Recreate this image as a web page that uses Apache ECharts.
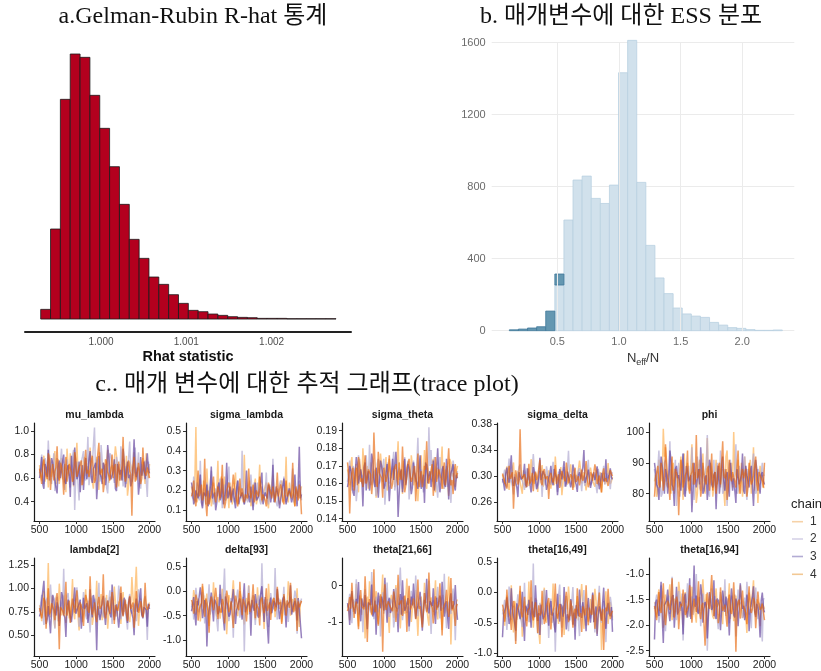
<!DOCTYPE html>
<html><head><meta charset="utf-8">
<script src="https://cdn.jsdelivr.net/npm/echarts@6/dist/echarts.min.js"></script>
<style>html,body{margin:0;padding:0;background:#fff}#c{width:821px;height:671px}</style>
</head><body><div id="c"></div>
<script>
// ---------- a. Gelman-Rubin R-hat histogram ----------
const rhatCounts = [29,270,659,795,785,671,572,457,344,239,182,126,104,73,47,26,22,15,11,7,5,4,2,2,2,1,1,1,1,1];
const rhatBinStart = 0.999293;
const rhatBinWidth = 0.0001154;
const rhatTicks = [1.000, 1.001, 1.002];

// ---------- b. ESS ratio histogram ----------
const essLight = [0,0,0,0,0,254,615,837,859,735,707,809,1433,1613,824,474,293,206,126,93,81,74,46,31,17,13,6,2,2,4];
const essMid   = [5,9,15,22,109,61,0,0,0,0,0,0,0,0,0,0,0,0,0,0,0,0,0,0,0,0,0,0,0,0];
const essBinStart = 0.111;
const essBinWidth = 0.0738;
const essXTicks = [0.5, 1.0, 1.5, 2.0];
const essYTicks = [0, 400, 800, 1200, 1600];

// ---------- c. trace plots ----------
const iterationsA = [500,530,560,590,620,650,680,710,740,770,800,830,860,890,920,950,980,1010,1040,1070,1100,1130,1160,1190,1220,1250,1280,1310,1340,1370,1400,1430,1460,1490,1520,1550,1580,1610,1640,1670,1700,1730,1760,1790,1820,1850,1880,1910,1940,1970,2000];
const iterationsB = [515,545,575,605,635,665,695,725,755,785,815,845,875,905,935,965,995,1025,1055,1085,1115,1145,1175,1205,1235,1265,1295,1325,1355,1385,1415,1445,1475,1505,1535,1565,1595,1625,1655,1685,1715,1745,1775,1805,1835,1865,1895,1925,1955,1985];
const iterTicks = [500, 1000, 1500, 2000];
const chainNames = ['1','2','3','4'];
const panelNames = ['mu_lambda','sigma_lambda','sigma_theta','sigma_delta','phi','lambda[2]','delta[93]','theta[21,66]','theta[16,49]','theta[16,94]'];
const panelYTicks = [
  [0.4,0.6,0.8,1.0],
  [0.1,0.2,0.3,0.4,0.5],
  [0.14,0.15,0.16,0.17,0.18,0.19],
  [0.26,0.30,0.34,0.38],
  [80,90,100],
  [0.50,0.75,1.00,1.25],
  [-1.0,-0.5,0.0,0.5],
  [-1,0],
  [-1.0,-0.5,0.0,0.5],
  [-2.5,-2.0,-1.5,-1.0]
];
const panelYRange = [[0.236,1.068],[0.046,0.540],[0.1387,0.1944],[0.2313,0.3815],[71.15,102.9],[0.278,1.324],[-1.323,0.676],[-1.935,0.763],[-1.049,0.570],[-2.603,-0.684]];
const panelDecimals = [1,1,2,2,0,2,1,0,1,1];

// draws at iterationsA, one array per chain
const muLambda = [
 [0.71,0.58,0.79,0.64,0.52,0.74,0.69,0.83,0.61,0.55,0.77,0.66,0.48,0.72,0.81,0.63,0.59,0.90,0.67,0.54,0.75,0.62,0.70,0.86,0.57,0.65,0.78,0.50,0.68,0.73,0.60,0.84,0.56,0.71,0.64,0.79,0.53,0.69,0.76,0.61,0.45,0.74,0.66,0.82,0.58,0.70,0.63,0.77,0.55,0.68,0.72],
 [0.64,0.80,0.55,0.73,0.92,0.60,0.68,0.49,0.77,0.62,0.85,0.57,0.70,0.66,0.52,0.79,0.33,0.74,0.41,0.69,0.83,0.58,0.95,0.63,0.71,1.03,0.76,0.67,0.88,0.59,0.72,0.47,0.81,0.65,0.56,0.78,0.62,0.87,0.53,0.70,0.66,0.91,0.57,0.74,0.60,0.82,0.51,0.69,0.75,0.44,0.67],
 [0.60,0.78,0.51,0.69,0.84,0.57,0.73,0.63,0.47,0.75,0.66,0.80,0.55,0.71,0.44,0.68,0.86,0.59,0.74,0.62,0.50,0.77,0.65,0.83,0.56,0.70,0.42,0.79,0.61,0.73,0.54,0.88,0.64,0.58,0.76,0.49,0.71,0.67,0.85,0.52,0.74,0.63,0.57,0.93,0.61,0.46,0.78,0.66,0.59,0.81,0.64],
 [0.68,0.55,0.76,0.62,0.81,0.50,0.72,0.66,0.87,0.58,0.70,0.46,0.78,0.64,0.73,0.57,0.82,0.61,0.69,0.75,0.53,0.84,0.67,0.60,0.79,0.56,0.71,0.90,0.63,0.48,0.76,0.65,0.58,0.80,0.69,0.52,0.74,0.62,0.95,0.57,0.70,0.66,0.28,0.78,0.61,0.73,0.55,0.86,0.64,0.69,0.60]
];
const sigmaLambda = [
 [0.22,0.15,0.52,0.18,0.26,0.13,0.21,0.31,0.17,0.12,0.24,0.19,0.35,0.14,0.20,0.27,0.16,0.11,0.23,0.18,0.29,0.13,0.21,0.17,0.38,0.15,0.22,0.12,0.19,0.26,0.16,0.33,0.14,0.20,0.24,0.11,0.18,0.28,0.15,0.21,0.13,0.25,0.17,0.37,0.14,0.19,0.23,0.12,0.20,0.16,0.22],
 [0.19,0.27,0.14,0.22,0.35,0.12,0.18,0.24,0.16,0.30,0.13,0.21,0.17,0.26,0.11,0.23,0.19,0.32,0.15,0.20,0.14,0.25,0.18,0.40,0.13,0.21,0.16,0.28,0.12,0.19,0.24,0.15,0.22,0.17,0.29,0.13,0.20,0.36,0.16,0.12,0.23,0.18,0.27,0.14,0.21,0.17,0.31,0.13,0.19,0.25,0.15],
 [0.24,0.13,0.20,0.16,0.28,0.11,0.19,0.23,0.14,0.32,0.17,0.10,0.22,0.15,0.26,0.12,0.34,0.18,0.14,0.21,0.11,0.25,0.16,0.19,0.13,0.30,0.17,0.22,0.10,0.24,0.15,0.20,0.29,0.12,0.18,0.23,0.14,0.33,0.16,0.21,0.11,0.19,0.26,0.13,0.17,0.22,0.15,0.28,0.12,0.42,0.18],
 [0.17,0.25,0.12,0.30,0.19,0.15,0.36,0.07,0.13,0.18,0.27,0.14,0.22,0.16,0.33,0.11,0.20,0.24,0.15,0.28,0.18,0.12,0.26,0.21,0.14,0.19,0.31,0.16,0.23,0.13,0.20,0.27,0.15,0.18,0.12,0.24,0.19,0.22,0.14,0.29,0.17,0.21,0.13,0.25,0.16,0.20,0.34,0.12,0.19,0.23,0.08]
];
const sigmaTheta = [
 [0.168,0.159,0.175,0.162,0.171,0.155,0.166,0.180,0.160,0.170,0.157,0.173,0.164,0.152,0.169,0.177,0.161,0.167,0.156,0.174,0.163,0.170,0.158,0.184,0.165,0.154,0.172,0.161,0.168,0.176,0.159,0.166,0.150,0.171,0.163,0.179,0.157,0.168,0.162,0.174,0.155,0.169,0.164,0.181,0.160,0.167,0.153,0.172,0.166,0.158,0.170],
 [0.161,0.173,0.156,0.168,0.150,0.176,0.163,0.158,0.171,0.165,0.182,0.159,0.167,0.153,0.174,0.162,0.169,0.148,0.172,0.160,0.166,0.178,0.155,0.164,0.170,0.157,0.175,0.163,0.151,0.168,0.173,0.161,0.186,0.158,0.167,0.154,0.171,0.192,0.179,0.160,0.168,0.152,0.175,0.162,0.157,0.170,0.165,0.149,0.173,0.161,0.167],
 [0.158,0.170,0.163,0.153,0.175,0.160,0.168,0.147,0.172,0.164,0.156,0.177,0.161,0.169,0.152,0.173,0.165,0.159,0.171,0.150,0.167,0.162,0.178,0.141,0.166,0.155,0.174,0.160,0.169,0.154,0.172,0.163,0.157,0.176,0.161,0.149,0.170,0.165,0.158,0.173,0.162,0.180,0.155,0.168,0.160,0.174,0.151,0.166,0.171,0.156,0.163],
 [0.172,0.143,0.166,0.156,0.169,0.175,0.161,0.158,0.176,0.163,0.168,0.154,0.189,0.160,0.178,0.165,0.152,0.170,0.162,0.176,0.157,0.167,0.171,0.159,0.164,0.181,0.155,0.169,0.174,0.161,0.166,0.150,0.177,0.163,0.158,0.170,0.184,0.160,0.167,0.153,0.175,0.162,0.169,0.157,0.172,0.164,0.180,0.159,0.154,0.171,0.166]
];
const sigmaDelta = [
 [0.302,0.288,0.315,0.279,0.296,0.321,0.284,0.308,0.291,0.273,0.312,0.298,0.285,0.326,0.293,0.305,0.276,0.300,0.317,0.287,0.294,0.309,0.281,0.299,0.330,0.290,0.303,0.271,0.311,0.295,0.286,0.318,0.301,0.283,0.297,0.324,0.289,0.306,0.278,0.300,0.313,0.292,0.284,0.310,0.297,0.275,0.305,0.291,0.320,0.288,0.299],
 [0.290,0.310,0.283,0.327,0.296,0.272,0.305,0.289,0.318,0.300,0.279,0.312,0.294,0.286,0.334,0.297,0.281,0.308,0.268,0.301,0.315,0.292,0.287,0.322,0.299,0.276,0.307,0.293,0.314,0.284,0.339,0.296,0.282,0.305,0.290,0.312,0.277,0.300,0.291,0.325,0.286,0.303,0.297,0.274,0.309,0.293,0.316,0.288,0.301,0.280,0.306],
 [0.296,0.278,0.313,0.290,0.332,0.285,0.301,0.268,0.309,0.294,0.319,0.283,0.299,0.275,0.314,0.302,0.288,0.328,0.292,0.307,0.279,0.298,0.316,0.286,0.304,0.271,0.311,0.295,0.323,0.289,0.300,0.283,0.318,0.293,0.276,0.306,0.297,0.340,0.287,0.310,0.282,0.301,0.294,0.315,0.280,0.305,0.292,0.326,0.289,0.312,0.295],
 [0.304,0.291,0.281,0.316,0.298,0.250,0.309,0.287,0.372,0.296,0.303,0.284,0.319,0.293,0.277,0.307,0.299,0.325,0.286,0.311,0.294,0.265,0.305,0.290,0.317,0.297,0.282,0.308,0.300,0.321,0.289,0.303,0.279,0.313,0.295,0.286,0.310,0.299,0.323,0.283,0.306,0.293,0.318,0.288,0.301,0.275,0.312,0.297,0.285,0.309,0.300]
];
const phi = [
 [84,79,91,86,101,95,82,88,88,80,87,83,92,78,85,90,81,96,84,77,89,86,93,80,98,83,87,79,91,85,82,88,76,94,84,90,100,86,91,83,79,92,85,88,80,95,84,77,89,86,82],
 [88,82,94,79,86,91,84,97,81,87,76,90,85,93,80,88,83,95,78,86,92,81,89,84,99,79,87,91,82,85,94,80,88,76,90,86,83,96,81,89,84,92,78,87,85,93,80,88,83,90,86],
 [90,83,78,92,85,88,80,94,83,76,89,86,81,93,79,87,84,74,90,82,88,95,80,85,78,91,83,86,75,89,84,92,81,87,79,90,85,77,88,83,93,80,86,82,89,76,91,84,80,87,83],
 [79,87,83,90,81,96,85,78,92,84,88,73,91,82,86,94,80,87,83,99,85,79,90,84,88,81,93,86,80,89,83,97,85,78,91,84,87,82,94,80,88,85,79,90,83,86,92,81,87,84,90]
];
const lambda2 = [
 [0.82,0.65,0.97,0.74,1.27,0.69,0.88,0.58,0.80,1.05,0.71,0.93,0.63,0.85,0.76,1.10,0.67,0.90,0.55,0.83,0.74,0.99,0.68,0.87,0.61,0.79,1.08,0.72,0.94,0.66,0.84,0.57,0.91,0.77,1.02,0.70,0.86,0.62,0.96,0.73,0.81,0.64,1.12,0.75,1.23,0.60,0.89,0.78,0.92,0.68,0.85],
 [0.75,0.93,0.61,0.86,0.70,1.04,0.79,0.57,0.91,0.68,0.83,1.21,0.73,0.95,0.64,0.88,0.77,1.01,0.59,0.82,0.96,0.71,0.87,0.53,0.92,0.76,0.66,1.06,0.80,0.69,0.90,0.74,0.98,0.62,0.85,0.72,1.03,0.67,0.88,0.79,0.56,0.94,0.73,0.84,0.65,0.99,0.77,0.70,0.91,0.45,0.81],
 [0.70,0.87,1.08,0.62,0.81,0.52,0.93,0.74,0.85,0.60,0.96,0.72,0.48,0.88,0.78,0.65,1.01,0.71,0.84,0.57,0.90,0.76,0.63,0.99,0.69,0.86,0.34,0.80,0.73,0.92,0.61,0.87,0.75,1.04,0.66,0.83,0.58,0.95,0.71,0.84,0.63,0.91,0.77,0.50,0.89,0.74,1.00,0.68,0.82,0.59,0.78],
 [0.79,0.68,0.90,0.57,1.00,0.75,0.84,0.66,0.95,0.35,0.82,0.71,1.07,0.78,0.63,0.89,0.74,0.98,0.69,0.86,0.60,0.93,0.77,1.13,0.72,0.85,0.64,0.91,0.79,1.15,0.68,0.87,0.73,0.96,0.62,0.84,0.76,1.02,0.70,0.88,0.65,0.92,0.80,0.58,0.97,0.74,0.86,0.69,1.06,0.77,0.83]
];
const delta93 = [
 [-0.25,0.02,-0.48,-0.15,-0.62,0.10,-0.33,-0.05,-0.71,-0.20,0.18,-0.41,-0.12,-0.56,0.05,-0.30,-0.88,-0.08,-0.38,0.22,-0.27,-0.51,0.00,-0.35,-0.68,-0.14,0.12,-0.44,-0.22,-0.59,0.08,-0.31,-0.10,-0.77,-0.26,0.15,-0.47,-0.18,-0.53,0.03,-0.36,-0.64,-0.09,-0.29,0.20,-0.50,-0.16,-0.40,0.06,-0.73,-0.23],
 [-0.33,-0.58,0.07,-0.21,-0.45,-0.02,-0.66,-0.28,0.14,-0.50,-0.11,-0.37,-0.82,-0.06,-0.43,0.46,-0.24,-0.61,-0.14,-0.95,-0.31,0.03,-0.54,-0.19,-1.23,-0.35,0.11,-0.47,-0.08,-0.69,-0.26,-0.52,0.57,-0.17,-0.40,-0.73,-0.04,-0.30,0.47,-0.58,-0.20,-0.46,0.09,-0.34,-0.63,-0.12,-0.42,0.01,-0.87,-0.27,-0.15],
 [-0.41,-0.12,-0.70,-0.29,0.08,-0.55,-0.18,-1.13,-0.36,-0.03,-0.62,-0.22,-0.47,0.13,-0.34,-0.80,-0.10,-0.52,-0.26,0.04,-0.67,-0.38,-0.15,-0.58,0.16,-0.44,-0.21,-0.91,-0.31,-0.06,-0.49,-0.19,0.10,-0.63,-0.35,-1.07,-0.13,-0.42,-0.24,0.05,-0.57,-0.32,-0.11,-0.74,-0.28,0.12,-0.48,-0.20,-0.60,-0.37,-0.96],
 [-0.18,-0.46,-0.07,-0.60,-0.30,0.15,-0.52,-0.24,-0.85,-0.11,-0.39,0.07,-0.57,-0.27,-0.16,-0.66,0.01,-0.43,-0.21,-0.75,-0.09,-0.34,0.19,-0.49,-0.25,-0.62,-0.04,-0.38,0.14,-0.55,-0.23,-0.70,-0.13,-0.45,0.06,-0.32,-0.59,-0.19,-0.41,0.09,-0.28,-0.67,-0.06,-0.50,-0.22,0.17,-0.36,-0.14,-0.81,-0.33,-0.20]
];
const theta2166 = [
 [-0.52,-0.95,-0.21,-0.70,0.05,-1.12,-0.40,-0.63,-1.45,-0.30,0.12,-0.82,-0.55,-0.15,-1.05,-0.46,0.31,-0.74,-0.58,-1.30,-0.25,-0.88,0.02,-0.60,-1.18,-0.35,-0.77,0.20,-0.50,-1.00,-0.68,-0.12,-1.38,-0.43,-0.85,0.08,-0.57,-1.10,-0.32,-0.72,0.15,-0.93,-0.48,-1.22,-0.28,-0.65,0.25,-1.62,-0.54,-0.80,-0.38],
 [-0.60,-0.22,-1.03,-0.45,0.18,-0.80,-0.35,-1.28,-0.10,-0.67,-0.50,0.38,-0.92,-0.30,-0.73,-1.40,-0.18,-0.58,0.09,-0.86,-0.42,-1.15,-0.06,-0.63,0.50,-0.95,-0.38,-0.75,-1.25,-0.14,-0.55,0.28,-0.84,-0.47,-1.07,-0.20,-0.70,0.14,-1.33,-0.40,-0.62,-0.03,-0.90,-0.52,0.33,-1.17,-0.44,-0.78,-0.08,-1.50,-0.57],
 [-0.48,-1.08,-0.15,-0.66,-0.36,0.10,-0.98,-0.53,-0.26,-1.20,-0.41,0.03,-0.71,-1.35,-0.19,-0.62,-0.44,0.22,-1.02,-0.33,-0.80,-0.09,-0.58,-1.28,-0.23,0.15,-0.69,-0.47,-1.12,-0.30,0.06,-0.91,-0.55,-0.17,-1.24,-0.39,0.19,-0.76,-0.50,-0.07,-1.05,-0.60,-0.27,0.11,-0.85,-0.43,-1.19,-0.21,-0.66,0.02,-0.94],
 [-0.70,-0.31,0.08,-0.89,-0.44,-1.20,-0.12,-0.61,0.26,-1.55,-0.37,-0.79,0.45,-0.52,-1.10,-0.24,-1.82,0.04,-0.67,-0.41,-0.58,-0.16,-1.00,0.30,-0.49,-0.83,-0.27,-1.27,0.00,-0.64,-0.35,-0.92,0.17,-0.56,-1.15,-0.20,-0.73,0.36,-0.46,-1.04,-0.29,-0.68,0.07,-1.37,-0.53,-0.11,-0.86,0.21,-0.42,-1.11,-0.50]
];
const theta1649 = [
 [-0.28,-0.55,-0.05,-0.40,0.12,-0.66,-0.20,-0.35,0.03,-0.73,-0.15,-0.47,0.18,-0.31,-0.58,-0.09,-0.42,-0.85,-0.24,0.08,-0.50,-0.18,-0.37,0.15,-0.62,-0.27,-0.04,-0.45,-0.70,-0.13,0.10,-0.39,-0.22,-0.56,-0.06,-0.33,0.14,-0.60,-0.26,-0.48,-0.11,-0.36,0.06,-0.68,-0.19,-0.95,-0.30,0.02,-0.52,-0.16,-0.41],
 [-0.36,-0.12,-0.62,0.10,-0.45,-0.22,-0.80,-0.03,-0.33,-0.57,0.16,-0.26,-0.49,-0.08,0.48,-0.40,-0.68,-0.17,-0.53,0.05,-0.30,-0.75,-0.10,-0.44,-0.98,-0.21,0.13,-0.58,-0.35,-0.06,-0.64,-0.25,0.09,-0.47,-0.15,-0.72,-0.31,0.04,-0.55,-0.19,-0.43,-0.02,-0.66,-0.28,0.11,-0.50,-0.14,-0.82,-0.34,-0.07,-0.46],
 [-0.74,-0.30,-0.08,-0.52,0.07,-0.38,-0.63,-0.18,-0.44,0.01,-0.80,-0.27,-0.12,-0.58,-0.35,0.12,-0.47,-0.70,-0.21,-0.40,0.04,-0.55,-0.14,-0.33,-0.66,-0.02,-0.48,-0.25,0.09,-0.61,-0.37,-0.11,-0.53,-0.78,-0.20,0.05,-0.42,-0.29,-0.64,-0.09,-0.50,0.00,-0.34,-0.72,-0.23,-0.45,0.08,-0.60,-0.17,-0.39,-0.65],
 [-0.20,-0.48,0.05,-0.33,-0.62,-0.14,-0.85,-0.26,0.11,-0.41,-0.07,-0.56,-0.29,0.20,-0.46,-0.16,-0.67,-0.38,0.03,-0.52,-0.24,-0.09,-0.61,-0.35,0.15,-0.43,-0.19,-0.74,-0.31,0.01,-0.49,-0.13,-0.58,-0.27,0.07,-0.40,-0.65,-0.22,0.12,-0.54,-0.32,-0.04,-0.60,-0.37,0.00,-0.47,-0.95,-0.25,0.06,-0.44,-0.30]
];
const theta1694 = [
 [-1.55,-1.85,-1.30,-1.70,-2.05,-1.40,-1.62,-1.20,-1.90,-1.48,-1.75,-1.15,-1.60,-2.00,-1.35,-1.68,-1.82,-1.25,-1.57,-1.95,-1.45,-1.72,-1.10,-1.65,-2.10,-1.38,-1.58,-1.88,-1.28,-1.66,-1.50,-1.98,-1.33,-1.77,-1.18,-1.61,-1.92,-1.42,-1.70,-1.22,-1.86,-1.53,-2.15,-1.36,-1.64,-1.12,-1.80,-1.47,-2.02,-1.56,-1.68],
 [-1.68,-1.40,-1.95,-1.22,-1.58,-2.12,-1.48,-1.78,-1.05,-1.62,-1.90,-1.33,-1.72,-2.30,-1.52,-1.18,-1.84,-1.44,-1.66,-1.00,-1.76,-2.02,-1.38,-1.60,-2.50,-1.50,-1.28,-1.82,-1.64,-2.08,-1.35,-1.74,-1.10,-1.56,-1.96,-1.42,-1.70,-2.22,-1.30,-1.63,-1.86,-1.46,-1.15,-1.79,-2.06,-1.54,-1.26,-1.88,-1.60,-2.32,-1.49],
 [-2.28,-1.50,-1.82,-1.15,-2.35,-1.60,-1.30,-1.92,-1.45,-2.05,-1.25,-1.72,-1.58,-2.18,-1.38,-1.85,-1.08,-1.66,-0.83,-1.42,-1.78,-1.20,-1.95,-1.55,-2.26,-1.35,-1.70,-1.12,-1.88,-1.52,-2.10,-1.32,-1.74,-1.62,-2.20,-1.28,-1.80,-1.48,-2.02,-1.18,-1.68,-1.90,-1.40,-2.12,-1.57,-1.24,-1.84,-1.65,-2.24,-1.36,-1.75],
 [-1.62,-1.90,-1.35,-1.76,-1.18,-2.00,-1.52,-1.70,-1.08,-1.85,-1.44,-2.08,-1.58,-1.30,-1.80,-1.66,-1.22,-1.95,-1.48,-1.74,-1.14,-1.88,-1.56,-2.40,-1.36,-1.68,-1.02,-1.82,-1.50,-1.96,-1.26,-1.72,-1.60,-2.03,-1.40,-1.78,-1.16,-2.52,-1.54,-1.87,-1.32,-1.64,-1.98,-1.24,-1.76,-1.46,-2.06,-1.34,-1.70,-1.58,-1.90]
];

// draws at iterationsB, one array per chain
const muLambdaB = [
 [0.63,0.74,0.57,0.68,0.80,0.61,0.70,0.55,0.76,0.66,0.59,0.72,0.85,0.62,0.69,0.53,0.75,0.64,0.71,0.58,0.78,0.67,0.60,0.73,0.51,0.70,0.65,0.82,0.59,0.68,0.74,0.56,0.69,0.63,0.87,0.61,0.72,0.58,0.66,0.79,0.54,0.71,0.62,0.76,0.67,0.57,0.73,0.64,0.81,0.60],
 [0.70,0.59,0.77,0.62,0.68,0.55,0.81,0.65,0.58,0.73,0.67,0.50,0.76,0.61,0.71,0.84,0.63,0.56,0.69,0.78,0.60,0.72,0.54,0.66,0.88,0.62,0.70,0.57,0.75,0.64,0.52,0.69,0.79,0.61,0.66,0.73,0.58,0.71,0.63,0.55,0.77,0.65,0.60,0.86,0.68,0.56,0.72,0.62,0.58,0.74],
 [0.66,0.55,0.72,0.61,0.58,0.77,0.64,0.52,0.70,0.60,0.74,0.57,0.67,0.63,0.79,0.54,0.69,0.62,0.48,0.71,0.65,0.59,0.76,0.61,0.68,0.73,0.57,0.64,0.55,0.70,0.62,0.78,0.59,0.66,0.51,0.72,0.63,0.58,0.75,0.67,0.60,0.53,0.71,0.65,0.69,0.56,0.62,0.74,0.58,0.68],
 [0.62,0.71,0.66,0.59,0.75,0.64,0.58,0.69,0.61,0.73,0.63,0.67,0.57,0.72,0.65,0.60,0.76,0.62,0.68,0.54,0.70,0.64,0.61,0.74,0.66,0.59,0.71,0.63,0.68,0.56,0.73,0.62,0.67,0.60,0.72,0.65,0.58,0.70,0.64,0.61,0.75,0.63,0.69,0.57,0.66,0.72,0.60,0.68,0.62,0.65]
];
const sigmaLambdaB = [
 [0.18,0.23,0.14,0.20,0.16,0.25,0.13,0.19,0.22,0.15,0.17,0.21,0.14,0.27,0.18,0.15,0.20,0.24,0.13,0.19,0.16,0.22,0.18,0.14,0.21,0.17,0.25,0.15,0.19,0.13,0.22,0.18,0.16,0.20,0.14,0.23,0.17,0.19,0.15,0.21,0.18,0.14,0.20,0.16,0.24,0.17,0.15,0.21,0.18,0.19],
 [0.16,0.20,0.24,0.15,0.18,0.21,0.13,0.19,0.23,0.17,0.14,0.20,0.16,0.22,0.18,0.15,0.26,0.17,0.20,0.14,0.19,0.23,0.16,0.18,0.21,0.14,0.17,0.20,0.24,0.16,0.18,0.13,0.21,0.19,0.15,0.22,0.17,0.20,0.14,0.18,0.25,0.16,0.19,0.15,0.21,0.18,0.14,0.20,0.17,0.22],
 [0.20,0.15,0.18,0.22,0.14,0.19,0.17,0.12,0.21,0.16,0.19,0.14,0.24,0.17,0.13,0.20,0.16,0.22,0.18,0.15,0.21,0.13,0.17,0.20,0.16,0.19,0.14,0.23,0.18,0.15,0.17,0.21,0.13,0.19,0.16,0.20,0.18,0.14,0.22,0.17,0.15,0.20,0.18,0.16,0.21,0.14,0.19,0.17,0.23,0.16],
 [0.19,0.16,0.21,0.17,0.23,0.18,0.14,0.20,0.16,0.22,0.18,0.15,0.19,0.21,0.17,0.14,0.20,0.18,0.16,0.22,0.15,0.19,0.17,0.20,0.18,0.16,0.21,0.19,0.14,0.20,0.17,0.22,0.18,0.15,0.19,0.21,0.16,0.18,0.20,0.17,0.23,0.15,0.19,0.17,0.20,0.16,0.18,0.22,0.15,0.19]
];
const sigmaThetaB = [
 [0.164,0.171,0.158,0.167,0.162,0.174,0.160,0.169,0.165,0.157,0.172,0.163,0.168,0.155,0.166,0.170,0.161,0.175,0.159,0.167,0.164,0.158,0.171,0.162,0.168,0.173,0.160,0.166,0.156,0.170,0.163,0.167,0.161,0.176,0.165,0.159,0.169,0.162,0.172,0.158,0.166,0.163,0.170,0.157,0.168,0.161,0.174,0.164,0.160,0.167],
 [0.167,0.160,0.170,0.163,0.157,0.172,0.165,0.161,0.176,0.162,0.168,0.158,0.166,0.171,0.160,0.164,0.174,0.159,0.167,0.163,0.170,0.156,0.165,0.169,0.161,0.166,0.162,0.173,0.158,0.167,0.164,0.171,0.160,0.168,0.155,0.166,0.163,0.170,0.161,0.175,0.159,0.167,0.164,0.169,0.162,0.158,0.171,0.165,0.168,0.160],
 [0.162,0.168,0.155,0.166,0.171,0.159,0.164,0.169,0.156,0.167,0.161,0.173,0.158,0.165,0.162,0.170,0.157,0.166,0.163,0.160,0.174,0.161,0.167,0.154,0.168,0.163,0.159,0.171,0.164,0.158,0.166,0.162,0.169,0.157,0.165,0.172,0.160,0.167,0.163,0.156,0.169,0.164,0.161,0.170,0.158,0.166,0.162,0.168,0.159,0.165],
 [0.166,0.161,0.169,0.164,0.159,0.170,0.163,0.167,0.160,0.168,0.165,0.162,0.171,0.158,0.166,0.163,0.169,0.161,0.167,0.164,0.160,0.168,0.163,0.172,0.162,0.166,0.159,0.169,0.164,0.161,0.170,0.165,0.158,0.167,0.162,0.168,0.163,0.160,0.171,0.165,0.161,0.168,0.163,0.166,0.159,0.170,0.164,0.162,0.167,0.163]
];
const sigmaDeltaB = [
 [0.295,0.306,0.289,0.300,0.312,0.285,0.298,0.304,0.291,0.309,0.282,0.299,0.294,0.315,0.288,0.301,0.296,0.308,0.284,0.303,0.292,0.311,0.297,0.286,0.305,0.293,0.314,0.290,0.300,0.287,0.307,0.296,0.283,0.302,0.298,0.310,0.289,0.304,0.294,0.299,0.313,0.291,0.301,0.286,0.306,0.295,0.288,0.303,0.297,0.292],
 [0.301,0.290,0.307,0.296,0.285,0.303,0.292,0.314,0.298,0.288,0.305,0.294,0.300,0.283,0.309,0.297,0.291,0.304,0.299,0.286,0.312,0.295,0.289,0.302,0.298,0.307,0.284,0.300,0.293,0.310,0.296,0.289,0.303,0.291,0.308,0.297,0.301,0.285,0.305,0.294,0.290,0.306,0.299,0.311,0.292,0.300,0.287,0.304,0.296,0.302],
 [0.289,0.304,0.296,0.310,0.292,0.299,0.283,0.306,0.295,0.301,0.287,0.312,0.298,0.291,0.305,0.280,0.300,0.294,0.308,0.297,0.286,0.303,0.292,0.311,0.298,0.290,0.304,0.296,0.284,0.307,0.299,0.293,0.309,0.287,0.301,0.295,0.313,0.290,0.302,0.297,0.285,0.306,0.294,0.300,0.288,0.308,0.296,0.291,0.303,0.298],
 [0.298,0.292,0.303,0.296,0.306,0.290,0.300,0.295,0.304,0.293,0.301,0.297,0.289,0.305,0.299,0.294,0.302,0.291,0.307,0.296,0.300,0.293,0.304,0.298,0.288,0.303,0.297,0.301,0.292,0.306,0.295,0.299,0.304,0.291,0.300,0.297,0.293,0.305,0.298,0.290,0.302,0.296,0.307,0.294,0.299,0.303,0.292,0.300,0.296,0.304]
];
const phiB = [
 [86,81,89,84,92,83,87,80,90,85,82,88,84,93,81,86,89,83,87,80,91,85,82,88,84,90,79,86,83,89,85,81,92,84,87,82,88,85,80,90,84,87,83,91,86,81,88,84,85,82],
 [83,88,85,80,90,84,87,82,86,91,84,79,88,85,83,89,81,87,85,92,82,86,84,89,80,87,85,83,90,84,88,81,86,85,91,83,87,80,89,84,86,82,88,84,90,85,81,87,83,86],
 [87,82,85,89,80,86,84,91,82,88,85,83,87,80,89,84,86,82,90,85,83,88,81,86,84,89,82,87,85,80,88,84,86,83,90,81,85,88,83,86,81,89,84,87,82,85,88,83,86,84],
 [85,89,82,87,84,90,83,86,81,88,85,83,89,84,87,82,86,90,84,85,88,82,86,83,89,85,81,87,84,90,83,86,88,82,85,87,84,89,83,86,85,88,82,86,84,89,83,87,85,82]
];
const lambda2B = [
 [0.78,0.88,0.70,0.83,0.74,0.92,0.67,0.81,0.76,0.86,0.72,0.95,0.79,0.68,0.84,0.75,0.89,0.71,0.80,0.64,0.87,0.77,0.73,0.90,0.69,0.82,0.76,0.85,0.66,0.79,0.93,0.74,0.81,0.70,0.86,0.78,0.72,0.88,0.75,0.83,0.68,0.80,0.91,0.73,0.84,0.77,0.70,0.87,0.76,0.82],
 [0.83,0.72,0.79,0.90,0.68,0.85,0.76,0.81,0.65,0.87,0.78,0.73,0.92,0.80,0.70,0.84,0.75,0.88,0.71,0.79,0.83,0.67,0.86,0.77,0.74,0.89,0.79,0.69,0.82,0.76,0.72,0.87,0.78,0.85,0.70,0.81,0.94,0.74,0.80,0.68,0.86,0.77,0.72,0.83,0.79,0.91,0.73,0.81,0.75,0.84],
 [0.74,0.86,0.79,0.67,0.83,0.76,0.89,0.71,0.80,0.75,0.91,0.69,0.82,0.77,0.64,0.85,0.73,0.80,0.88,0.70,0.78,0.84,0.72,0.79,0.93,0.75,0.81,0.66,0.86,0.74,0.80,0.77,0.69,0.87,0.76,0.82,0.71,0.79,0.90,0.73,0.85,0.78,0.68,0.81,0.75,0.88,0.72,0.80,0.77,0.83],
 [0.81,0.75,0.86,0.79,0.72,0.84,0.77,0.89,0.74,0.80,0.76,0.83,0.71,0.87,0.78,0.82,0.73,0.80,0.85,0.76,0.79,0.88,0.74,0.81,0.77,0.70,0.84,0.78,0.83,0.75,0.80,0.86,0.73,0.79,0.82,0.76,0.88,0.77,0.81,0.74,0.83,0.78,0.85,0.72,0.80,0.79,0.84,0.75,0.82,0.78]
];
const delta93B = [
 [-0.31,-0.12,-0.40,-0.22,-0.35,-0.08,-0.29,-0.46,-0.18,-0.33,-0.25,-0.52,-0.14,-0.38,-0.27,-0.05,-0.42,-0.21,-0.34,-0.16,-0.44,-0.26,-0.11,-0.37,-0.23,-0.48,-0.19,-0.30,-0.09,-0.41,-0.28,-0.15,-0.36,-0.24,-0.50,-0.20,-0.33,-0.13,-0.39,-0.27,-0.17,-0.45,-0.25,-0.32,-0.10,-0.38,-0.22,-0.29,-0.43,-0.19],
 [-0.22,-0.37,-0.15,-0.43,-0.26,-0.10,-0.34,-0.20,-0.48,-0.28,-0.13,-0.39,-0.24,-0.31,-0.06,-0.36,-0.21,-0.45,-0.29,-0.17,-0.33,-0.25,-0.41,-0.12,-0.30,-0.23,-0.47,-0.18,-0.35,-0.27,-0.09,-0.40,-0.26,-0.32,-0.16,-0.44,-0.21,-0.37,-0.28,-0.14,-0.34,-0.25,-0.49,-0.19,-0.31,-0.23,-0.38,-0.11,-0.30,-0.26],
 [-0.29,-0.44,-0.20,-0.33,-0.14,-0.38,-0.26,-0.51,-0.22,-0.35,-0.17,-0.30,-0.42,-0.24,-0.36,-0.11,-0.31,-0.47,-0.19,-0.28,-0.39,-0.21,-0.34,-0.15,-0.43,-0.27,-0.32,-0.18,-0.40,-0.25,-0.54,-0.23,-0.30,-0.12,-0.37,-0.28,-0.45,-0.20,-0.33,-0.26,-0.41,-0.16,-0.35,-0.29,-0.22,-0.48,-0.27,-0.31,-0.14,-0.36],
 [-0.26,-0.33,-0.19,-0.38,-0.24,-0.30,-0.15,-0.41,-0.27,-0.22,-0.35,-0.18,-0.31,-0.44,-0.25,-0.29,-0.12,-0.36,-0.23,-0.32,-0.20,-0.39,-0.27,-0.16,-0.34,-0.28,-0.42,-0.21,-0.30,-0.25,-0.37,-0.18,-0.33,-0.26,-0.40,-0.23,-0.29,-0.14,-0.35,-0.27,-0.22,-0.38,-0.30,-0.19,-0.34,-0.25,-0.43,-0.28,-0.21,-0.32]
];
const theta2166B = [
 [-0.58,-0.35,-0.72,-0.48,-0.62,-0.27,-0.80,-0.52,-0.40,-0.66,-0.31,-0.57,-0.75,-0.45,-0.60,-0.22,-0.69,-0.50,-0.84,-0.42,-0.56,-0.33,-0.71,-0.47,-0.63,-0.29,-0.78,-0.53,-0.38,-0.65,-0.46,-0.74,-0.55,-0.30,-0.68,-0.51,-0.88,-0.43,-0.59,-0.36,-0.70,-0.49,-0.61,-0.25,-0.76,-0.54,-0.41,-0.67,-0.57,-0.44],
 [-0.50,-0.70,-0.38,-0.61,-0.45,-0.82,-0.53,-0.33,-0.66,-0.48,-0.74,-0.56,-0.40,-0.63,-0.28,-0.59,-0.77,-0.47,-0.64,-0.36,-0.52,-0.86,-0.44,-0.60,-0.34,-0.68,-0.49,-0.57,-0.73,-0.42,-0.62,-0.31,-0.55,-0.79,-0.46,-0.58,-0.39,-0.67,-0.51,-0.81,-0.43,-0.60,-0.32,-0.65,-0.54,-0.72,-0.47,-0.37,-0.63,-0.56],
 [-0.62,-0.43,-0.57,-0.77,-0.49,-0.66,-0.35,-0.59,-0.72,-0.46,-0.53,-0.85,-0.41,-0.60,-0.51,-0.30,-0.68,-0.55,-0.44,-0.75,-0.58,-0.39,-0.64,-0.50,-0.80,-0.45,-0.61,-0.34,-0.70,-0.54,-0.47,-0.65,-0.37,-0.59,-0.76,-0.48,-0.62,-0.42,-0.56,-0.71,-0.33,-0.57,-0.69,-0.46,-0.52,-0.83,-0.40,-0.63,-0.50,-0.58],
 [-0.54,-0.63,-0.46,-0.58,-0.69,-0.41,-0.56,-0.65,-0.49,-0.60,-0.38,-0.57,-0.72,-0.51,-0.62,-0.45,-0.55,-0.67,-0.43,-0.59,-0.70,-0.48,-0.61,-0.53,-0.40,-0.64,-0.56,-0.47,-0.66,-0.52,-0.59,-0.44,-0.63,-0.55,-0.71,-0.50,-0.58,-0.42,-0.61,-0.54,-0.66,-0.49,-0.57,-0.63,-0.45,-0.60,-0.52,-0.68,-0.47,-0.56]
];
const theta1649B = [
 [-0.33,-0.20,-0.41,-0.27,-0.36,-0.14,-0.45,-0.30,-0.24,-0.38,-0.18,-0.34,-0.49,-0.26,-0.31,-0.11,-0.39,-0.28,-0.22,-0.43,-0.35,-0.17,-0.29,-0.40,-0.25,-0.52,-0.32,-0.21,-0.37,-0.28,-0.15,-0.42,-0.30,-0.23,-0.46,-0.34,-0.19,-0.36,-0.27,-0.40,-0.24,-0.31,-0.13,-0.38,-0.29,-0.44,-0.26,-0.35,-0.21,-0.32],
 [-0.25,-0.38,-0.29,-0.16,-0.42,-0.31,-0.22,-0.35,-0.47,-0.27,-0.33,-0.19,-0.40,-0.28,-0.36,-0.12,-0.30,-0.44,-0.24,-0.37,-0.21,-0.32,-0.50,-0.26,-0.34,-0.18,-0.39,-0.29,-0.23,-0.41,-0.30,-0.15,-0.36,-0.27,-0.45,-0.22,-0.33,-0.38,-0.20,-0.31,-0.43,-0.26,-0.35,-0.17,-0.39,-0.28,-0.24,-0.37,-0.30,-0.21],
 [-0.36,-0.24,-0.31,-0.45,-0.27,-0.39,-0.18,-0.33,-0.28,-0.48,-0.22,-0.37,-0.30,-0.15,-0.41,-0.26,-0.34,-0.20,-0.44,-0.29,-0.35,-0.23,-0.38,-0.53,-0.27,-0.32,-0.19,-0.40,-0.25,-0.36,-0.46,-0.28,-0.33,-0.21,-0.39,-0.30,-0.16,-0.42,-0.26,-0.34,-0.29,-0.49,-0.23,-0.37,-0.31,-0.18,-0.40,-0.27,-0.35,-0.24],
 [-0.29,-0.35,-0.23,-0.40,-0.31,-0.26,-0.37,-0.20,-0.33,-0.28,-0.42,-0.30,-0.24,-0.36,-0.27,-0.39,-0.21,-0.34,-0.29,-0.45,-0.25,-0.32,-0.38,-0.22,-0.35,-0.30,-0.27,-0.41,-0.33,-0.19,-0.36,-0.28,-0.31,-0.43,-0.26,-0.34,-0.23,-0.38,-0.30,-0.25,-0.37,-0.29,-0.40,-0.22,-0.33,-0.27,-0.36,-0.31,-0.24,-0.35]
];
const theta1694B = [
 [-1.60,-1.45,-1.72,-1.53,-1.81,-1.58,-1.40,-1.67,-1.76,-1.50,-1.63,-1.35,-1.70,-1.56,-1.85,-1.48,-1.65,-1.57,-1.78,-1.44,-1.61,-1.73,-1.52,-1.39,-1.68,-1.59,-1.83,-1.47,-1.64,-1.55,-1.75,-1.42,-1.66,-1.54,-1.88,-1.50,-1.62,-1.71,-1.46,-1.58,-1.80,-1.53,-1.69,-1.37,-1.63,-1.74,-1.49,-1.60,-1.77,-1.55],
 [-1.66,-1.55,-1.78,-1.48,-1.63,-1.71,-1.42,-1.59,-1.84,-1.52,-1.69,-1.60,-1.38,-1.74,-1.56,-1.65,-1.49,-1.80,-1.58,-1.67,-1.45,-1.72,-1.61,-1.53,-1.86,-1.57,-1.70,-1.43,-1.64,-1.76,-1.51,-1.62,-1.82,-1.47,-1.68,-1.58,-1.40,-1.73,-1.60,-1.54,-1.79,-1.63,-1.50,-1.69,-1.44,-1.66,-1.75,-1.56,-1.61,-1.48],
 [-1.56,-1.70,-1.47,-1.83,-1.61,-1.52,-1.75,-1.63,-1.41,-1.68,-1.79,-1.54,-1.66,-1.46,-1.72,-1.59,-1.88,-1.50,-1.64,-1.73,-1.55,-1.42,-1.69,-1.60,-1.77,-1.51,-1.65,-1.81,-1.48,-1.62,-1.70,-1.57,-1.44,-1.74,-1.63,-1.53,-1.85,-1.59,-1.67,-1.49,-1.62,-1.76,-1.54,-1.68,-1.45,-1.71,-1.58,-1.82,-1.52,-1.66],
 [-1.64,-1.58,-1.70,-1.52,-1.66,-1.75,-1.60,-1.49,-1.68,-1.62,-1.55,-1.73,-1.63,-1.57,-1.80,-1.61,-1.51,-1.69,-1.65,-1.58,-1.74,-1.62,-1.54,-1.67,-1.59,-1.71,-1.48,-1.64,-1.60,-1.77,-1.56,-1.66,-1.61,-1.53,-1.72,-1.63,-1.58,-1.69,-1.50,-1.65,-1.62,-1.76,-1.57,-1.64,-1.68,-1.55,-1.70,-1.60,-1.66,-1.59]
];
const traceChainsA = [muLambda, sigmaLambda, sigmaTheta, sigmaDelta, phi, lambda2, delta93, theta2166, theta1649, theta1694];
const traceChainsB = [muLambdaB, sigmaLambdaB, sigmaThetaB, sigmaDeltaB, phiB, lambda2B, delta93B, theta2166B, theta1649B, theta1694B];

// ---------- styling / layout ----------
const chainColors = ['#fdb863','#b2abd2','#5e3c99','#e66101'];
const chainOpacity = [0.75, 0.7, 0.65, 0.62];
const legendColors = ['#f6d2a8','#d6d2e8','#b3acd4','#f2c894'];
const gridLefts = [34, 186, 342, 497, 649];
const rowTops = [423, 558];
const rowHeights = [98, 99];
const panelW = 121;
const serifFont = '"Liberation Serif","Noto Sans CJK KR",serif';
const sansFont = '"Liberation Sans",Arial,sans-serif';

const chart = echarts.init(document.getElementById('c'), null, {renderer: 'canvas'});

const grids = [], xAxes = [], yAxes = [], series = [], graphics = [];

// Panel a
grids.push({left: 25, top: 40, width: 326, height: 291.7, containLabel: false});
xAxes.push({gridIndex: 0, type: 'value', min: 0.999109, max: 1.002931,
  axisLine: {show: true, onZero: false, lineStyle: {color: '#222', width: 2}},
  axisTick: {show: false}, splitLine: {show: false},
  axisLabel: {customValues: rhatTicks, formatter: v => v.toFixed(3), color: '#4d4d4d', fontSize: 10, fontFamily: sansFont, margin: 6},
  name: 'Rhat statistic', nameLocation: 'middle', nameGap: 18,
  nameTextStyle: {fontSize: 14.5, fontWeight: 'bold', color: '#111', fontFamily: sansFont}
});
yAxes.push({gridIndex: 0, type: 'value', min: -38, max: 837, show: false});
series.push({type: 'custom', xAxisIndex: 0, yAxisIndex: 0, silent: true, animation: false,
  data: rhatCounts.map((c, i) => [rhatBinStart + i * rhatBinWidth, rhatBinStart + (i + 1) * rhatBinWidth, 0, c]),
  renderItem: (params, api) => {
    const p0 = api.coord([api.value(0), api.value(3)]);
    const p1 = api.coord([api.value(1), api.value(2)]);
    return {type: 'rect', shape: {x: p0[0], y: p0[1], width: p1[0] - p0[0], height: p1[1] - p0[1]},
      style: {fill: '#b3001e', stroke: '#1a1a1a', lineWidth: 0.8}};
  }
});

// Panel b
grids.push({left: 491.7, top: 42.7, width: 302.6, height: 288, containLabel: false});
xAxes.push({gridIndex: 1, type: 'value', min: -0.032, max: 2.422,
  axisLine: {show: false}, axisTick: {show: false}, splitLine: {show: false},
  axisLabel: {customValues: essXTicks, formatter: v => v.toFixed(1), color: '#6b6b6b', fontSize: 11, fontFamily: sansFont, margin: 6},
  name: '{n|N}{s|eff}{n|/N}', nameLocation: 'middle', nameGap: 19,
  nameTextStyle: {color: '#333', fontFamily: sansFont, rich: {n: {fontSize: 13, color: '#333', fontFamily: sansFont}, s: {fontSize: 9, color: '#333', fontFamily: sansFont, padding: [8, 0, 0, 0]}}}
});
yAxes.push({gridIndex: 1, type: 'value', min: 0, max: 1600, interval: 400,
  axisLine: {show: false}, axisTick: {show: false},
  splitLine: {show: true, lineStyle: {color: '#ebebeb', width: 1}},
  axisLabel: {customValues: essYTicks, formatter: v => String(v), color: '#6b6b6b', fontSize: 11, fontFamily: sansFont, margin: 6}
});
series.push({type: 'line', xAxisIndex: 1, yAxisIndex: 1, data: [], silent: true, animation: false, z: 0,
  markLine: {silent: true, symbol: 'none', animation: false, label: {show: false},
    lineStyle: {color: '#ebebeb', width: 1, type: 'solid'},
    data: essXTicks.map(v => ({xAxis: v}))}
});
const essRects = [];
essLight.forEach((c, i) => { if (c > 0) essRects.push([essBinStart + i * essBinWidth, essBinStart + (i + 1) * essBinWidth, 0, c, 0]); });
essMid.forEach((c, i) => { if (c > 0) essRects.push([essBinStart + i * essBinWidth, essBinStart + (i + 1) * essBinWidth, essLight[i], essLight[i] + c, 1]); });
series.push({type: 'custom', xAxisIndex: 1, yAxisIndex: 1, silent: true, animation: false, z: 3, clip: false,
  data: essRects,
  renderItem: (params, api) => {
    const p0 = api.coord([api.value(0), api.value(3)]);
    const p1 = api.coord([api.value(1), api.value(2)]);
    const mid = api.value(4) === 1;
    return {type: 'rect', shape: {x: p0[0], y: p0[1], width: p1[0] - p0[0], height: p1[1] - p0[1]},
      style: {fill: mid ? '#6497b1' : '#d1e1ec', stroke: mid ? '#3f7799' : '#b9d0e1', lineWidth: 0.8}};
  }
});

// Panels c
traceChainsA.forEach((chains, p) => {
  const row = p < 5 ? 0 : 1, col = p % 5;
  const gi = p + 2;
  grids.push({left: gridLefts[col], top: rowTops[row], width: panelW, height: rowHeights[row], containLabel: false});
  xAxes.push({gridIndex: gi, type: 'value', min: 425, max: 2075,
    axisLine: {show: true, onZero: false, lineStyle: {color: '#1a1a1a', width: 1.2}},
    axisTick: {show: true, customValues: iterTicks, length: 3, lineStyle: {color: '#333'}},
    splitLine: {show: false},
    axisLabel: {customValues: iterTicks, formatter: v => String(v), color: '#222', fontSize: 10.5, fontFamily: sansFont, margin: 4}
  });
  const dec = panelDecimals[p];
  yAxes.push({gridIndex: gi, type: 'value', min: panelYRange[p][0], max: panelYRange[p][1],
    axisLine: {show: true, onZero: false, lineStyle: {color: '#1a1a1a', width: 1.2}},
    axisTick: {show: true, customValues: panelYTicks[p], length: 3, lineStyle: {color: '#333'}},
    splitLine: {show: false},
    axisLabel: {customValues: panelYTicks[p], formatter: v => v.toFixed(dec), color: '#222', fontSize: 10.5, fontFamily: sansFont, margin: 5}
  });
  chains.forEach((vals, c) => {
    const pts = vals.map((v, i) => [iterationsA[i], v])
      .concat(traceChainsB[p][c].map((v, i) => [iterationsB[i], v]))
      .sort((a, b) => a[0] - b[0]);
    series.push({type: 'line', name: chainNames[c], xAxisIndex: gi, yAxisIndex: gi,
      data: pts,
      showSymbol: false, symbol: 'none', silent: true, animation: false, z: 2 + c,
      lineStyle: {width: 1.5, color: chainColors[c], opacity: chainOpacity[c]},
      itemStyle: {color: chainColors[c]}
    });
  });
  graphics.push({type: 'text', silent: true,
    style: {text: panelNames[p], x: gridLefts[col] + panelW / 2, y: row === 0 ? 415 : 550,
      font: 'bold 10.5px ' + sansFont, fill: '#1a1a1a', align: 'center', verticalAlign: 'middle', textAlign: 'center', textVerticalAlign: 'middle'}});
});

// Titles
[['a.Gelman-Rubin R-hat 통계', 193, 17], ['b. 매개변수에 대한 ESS 분포', 621, 17], ['c.. 매개 변수에 대한 추적 그래프(trace plot)', 307, 385]].forEach(t => {
  graphics.push({type: 'text', silent: true,
    style: {text: t[0], x: t[1], y: t[2], font: '24px ' + serifFont, fill: '#111',
      align: 'center', verticalAlign: 'middle', textAlign: 'center', textVerticalAlign: 'middle'}});
});

// Legend (chain key)
graphics.push({type: 'text', silent: true,
  style: {text: 'chain', x: 791, y: 504, font: '13px ' + sansFont, fill: '#222', align: 'left', verticalAlign: 'middle', textAlign: 'left', textVerticalAlign: 'middle'}});
const legendRowY = [521.7, 539, 556.5, 574.3];
chainNames.forEach((n, i) => {
  graphics.push({type: 'line', silent: true, shape: {x1: 792, y1: legendRowY[i], x2: 803, y2: legendRowY[i]},
    style: {stroke: legendColors[i], lineWidth: 1.6}});
  graphics.push({type: 'text', silent: true,
    style: {text: n, x: 810, y: legendRowY[i], font: '12px ' + sansFont, fill: '#333', align: 'left', verticalAlign: 'middle', textAlign: 'left', textVerticalAlign: 'middle'}});
});

chart.setOption({
  animation: false,
  backgroundColor: '#ffffff',
  grid: grids, xAxis: xAxes, yAxis: yAxes, series: series,
  graphic: graphics
});
</script>
</body></html>
